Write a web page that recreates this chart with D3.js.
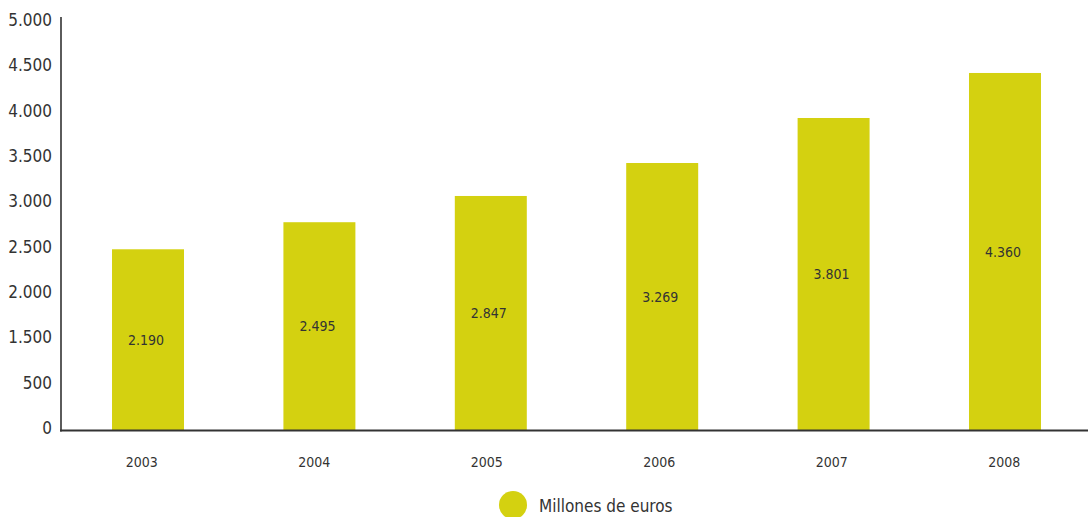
<!DOCTYPE html>
<html>
<head>
<meta charset="utf-8">
<script src="https://cdn.jsdelivr.net/npm/d3@7"></script>
<style>
  body { margin: 0; background: #fff; }
  svg text { font-family: "Liberation Sans Narrow", "DejaVu Sans Condensed", "Arial Narrow", sans-serif; fill: #333; }
</style>
</head>
<body>
<div id="chart"></div>
<script>
        const years = ["2003", "2004", "2005", "2006", "2007", "2008"];
        // bar heights as drawn in the picture (the printed labels differ slightly)
        const values = [2210, 2540, 2860, 3262, 3811, 4360];
        const valueLabels = ["2.190", "2.495", "2.847", "3.269", "3.801", "4.360"];
        // the original axis skips 1.000 and spaces the labels evenly
        const yTickLabels = ["0", "500", "1.500", "2.000", "2.500", "3.000", "3.500", "4.000", "4.500", "5.000"];
        const seriesName = "Millones de euros";

        const width = 1088, height = 517;
        const barColor = "#d4d110";

        const svg = d3.select("#chart").append("svg")
            .attr("width", width)
            .attr("height", height);

        const x = d3.scaleBand().domain(years).range([60.6, 1092.4]).paddingInner(0.58).paddingOuter(0.3);
        const xLabels = d3.scalePoint().domain(years).range([141.3, 1003.7]);
        const y = d3.scaleLinear().domain([0, 5000]).range([430.5, 20.5]);
        const yLabels = d3.scalePoint().domain(yTickLabels).range([428, 20]);

        // bars
        svg.selectAll(".bar")
            .data(values)
            .enter().append("rect")
            .attr("class", "bar")
            .attr("x", (d, i) => x(years[i]))
            .attr("y", d => y(d))
            .attr("width", x.bandwidth())
            .attr("height", d => y(0) - y(d))
            .style("fill", barColor);

        // values in the middle of each bar
        svg.selectAll(".val")
            .data(values)
            .enter().append("text")
            .attr("class", "val")
            .attr("x", (d, i) => x(years[i]) + x.bandwidth() / 2 - 2)
            .attr("y", d => (y(d) + y(0)) / 2)
            .attr("dy", ".35em")
            .style("text-anchor", "middle")
            .style("font-size", "14px")
            .text((d, i) => valueLabels[i]);

        // y axis (labels only, no ticks)
        const yAxis = svg.append("g")
            .attr("transform", "translate(61,0)")
            .call(d3.axisLeft(yLabels).tickSize(0).tickPadding(9));
        yAxis.select(".domain").remove();
        yAxis.selectAll("text").style("font-size", "17px").style("fill", "#333");

        svg.append("line")
            .attr("x1", 61).attr("x2", 61)
            .attr("y1", 17).attr("y2", 431.5)
            .style("stroke", "#333").style("stroke-width", 1.6);

        svg.append("line")
            .attr("x1", 60).attr("x2", width)
            .attr("y1", 430.5).attr("y2", 430.5)
            .style("stroke", "#333").style("stroke-width", 1.8);

        // x axis labels
        const xAxis = svg.append("g")
            .attr("transform", "translate(0,457)")
            .call(d3.axisBottom(xLabels).tickSize(0).tickPadding(0));
        xAxis.select(".domain").remove();
        xAxis.selectAll("text").style("font-size", "14px").style("fill", "#333");

        // legend
        const legend = svg.append("g").attr("transform", "translate(513,505)");
        legend.append("circle").attr("r", 14).style("fill", barColor);
        legend.append("text")
            .attr("x", 26)
            .attr("y", 7)
            .style("font-size", "17px")
            .text(seriesName);
</script>
</body>
</html>
